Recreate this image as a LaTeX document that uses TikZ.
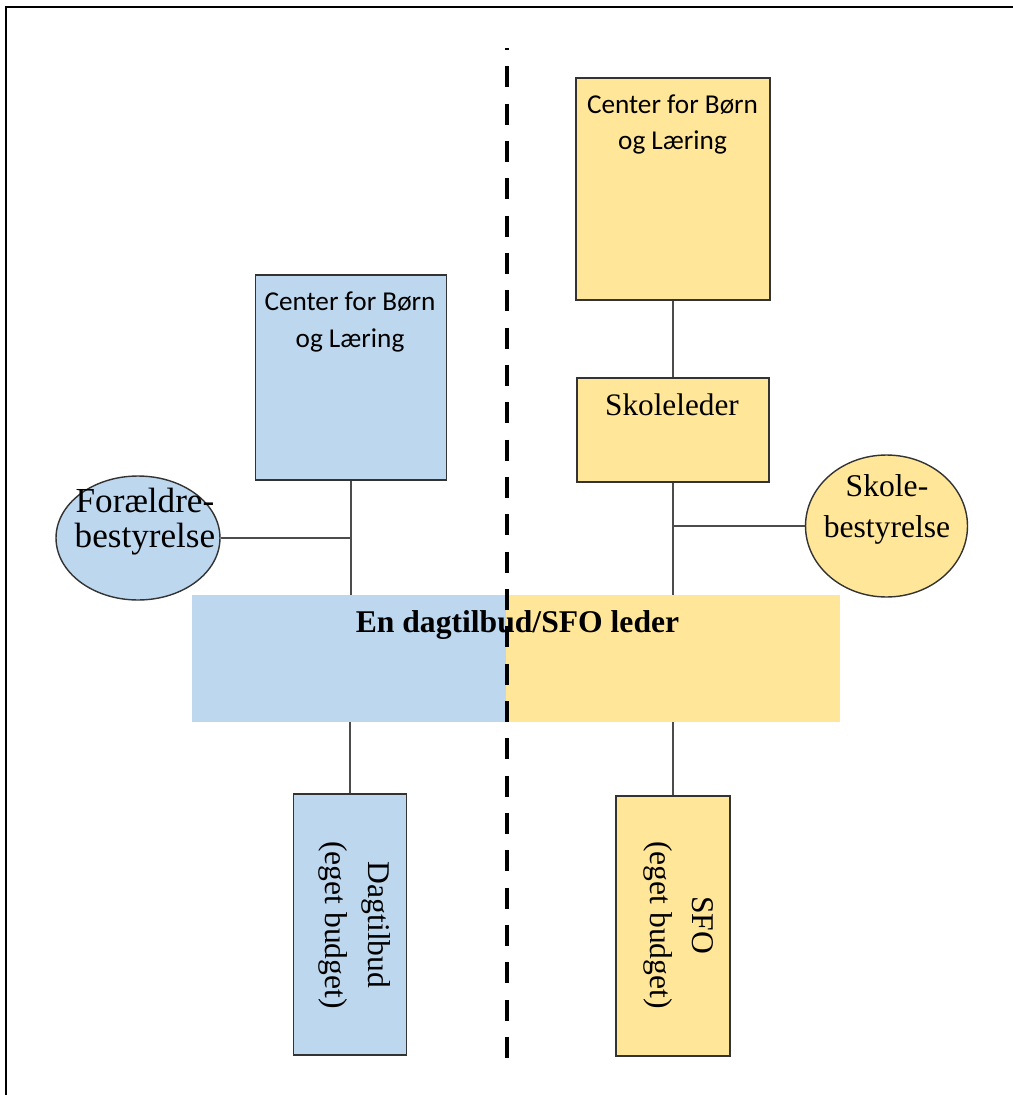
\documentclass[tikz,border=0pt]{standalone}
\usepackage{fontspec}
\setmainfont{Liberation Serif}
\newfontfamily\calibrifont{Carlito}
\usetikzlibrary{shapes.geometric}
\definecolor{boxblue}{HTML}{BDD7EE}
\definecolor{boxyellow}{HTML}{FFE699}
\tikzset{
  box_blue/.style={rectangle, draw=black!80, line width=0.8pt, fill=boxblue, inner sep=0},
  box_yellow/.style={rectangle, draw=black!80, line width=0.8pt, fill=boxyellow, inner sep=0},
  band_blue/.style={rectangle, draw=none, fill=boxblue, inner sep=0},
  band_yellow/.style={rectangle, draw=none, fill=boxyellow, inner sep=0},
  oval_blue/.style={ellipse, draw=black!80, line width=0.8pt, fill=boxblue, inner sep=0},
  oval_yellow/.style={ellipse, draw=black!80, line width=0.8pt, fill=boxyellow, inner sep=0},
  text_center/.style={draw=none, inner sep=0, align=center, anchor=base, font=\calibrifont\fontsize{15.5}{20.5}\selectfont},
  text_times/.style={draw=none, inner sep=0, align=center, anchor=base},
  line_link/.style={line width=0.8pt, color=black!70},
  line_split/.style={line width=2.8pt, color=black, dash pattern=on 11.9pt off 9.35pt, dash phase=10.8pt},
  line_frame/.style={line width=1.1pt, color=black}
}

\begin{document}
\begin{tikzpicture}[x=0.02cm, y=-0.02cm]
\useasboundingbox (0,0) rectangle (1013,1095);
%% frame
\draw[line_frame] (6,1095) -- (6,7) -- (1013,7);

%% left side
\node[box_blue, minimum width=3.82cm, minimum height=4.1cm] at (351,377.5) (ctr_left) {};
\node[oval_blue, minimum width=3.28cm, minimum height=2.48cm] at (138,538) (foraeldre) {};
\node[band_blue, minimum width=6.28cm, minimum height=2.54cm] at (349,658.5) (leder_blue) {};
\node[box_blue, minimum width=2.26cm, minimum height=5.22cm] at (350,924.5) (dagtilbud) {};

%% right side
\node[box_yellow, minimum width=3.88cm, minimum height=4.44cm] at (673,189) (ctr_right) {};
\node[box_yellow, minimum width=3.84cm, minimum height=2.08cm] at (673,430) (skoleleder) {};
\node[oval_yellow, minimum width=3.24cm, minimum height=2.84cm] at (886.5,526) (skolebest) {};
\node[band_yellow, minimum width=6.68cm, minimum height=2.54cm] at (673,658.5) (leder_yellow) {};
\node[box_yellow, minimum width=2.28cm, minimum height=5.2cm] at (673,926) (sfo) {};

%% texts (base = last line)
\node[text_center] at (350,347) (ctr_left_txt) {Center for Børn\\og Læring};
\node[text_center] at (672.5,150) (ctr_right_txt) {Center for Børn\\og Læring};
\node[text_times, font=\fontsize{20}{19.8}\selectfont] at (145,547) (foraeldre_txt) {Forældre-\\bestyrelse};
\node[text_times, font=\fontsize{18}{23.2}\selectfont] at (887,537) (skolebest_txt) {Skole-\\bestyrelse};
\node[text_times, font=\fontsize{17.8}{20}\selectfont] at (672,415) (skoleleder_txt) {Skoleleder};
\node[text_times, font=\bfseries\fontsize{18}{20}\selectfont] at (517.5,632) (leder_txt) {En dagtilbud/SFO leder};
\node[text_times, rotate=-90, font=\fontsize{18}{25}\selectfont] at (325,925) (dagtilbud_txt) {Dagtilbud\\(eget budget)};
\node[text_times, rotate=-90, font=\fontsize{18}{24}\selectfont] at (650,925) (sfo_txt) {SFO\\(eget budget)};

%% lines
\draw[line_link] (ctr_left.south) -- (ctr_left.south |- leder_blue.north);
\draw[line_link] (foraeldre.east) -- (foraeldre.east -| ctr_left.south);
\draw[line_link] (dagtilbud.north |- leder_blue.south) -- (dagtilbud.north);

\draw[line_link] (ctr_right.south) -- (skoleleder.north);
\draw[line_link] (skoleleder.south) -- (skoleleder.south |- leder_yellow.north);
\draw[line_link] (skolebest.west) -- (skolebest.west -| skoleleder.south);
\draw[line_link] (sfo.north |- leder_yellow.south) -- (sfo.north);

%% dashed split
\coordinate (split_top) at (507,48);
\coordinate (split_bottom) at (507,1060);
\draw[line_split] (split_top) -- (split_bottom);
\end{tikzpicture}
\end{document}
